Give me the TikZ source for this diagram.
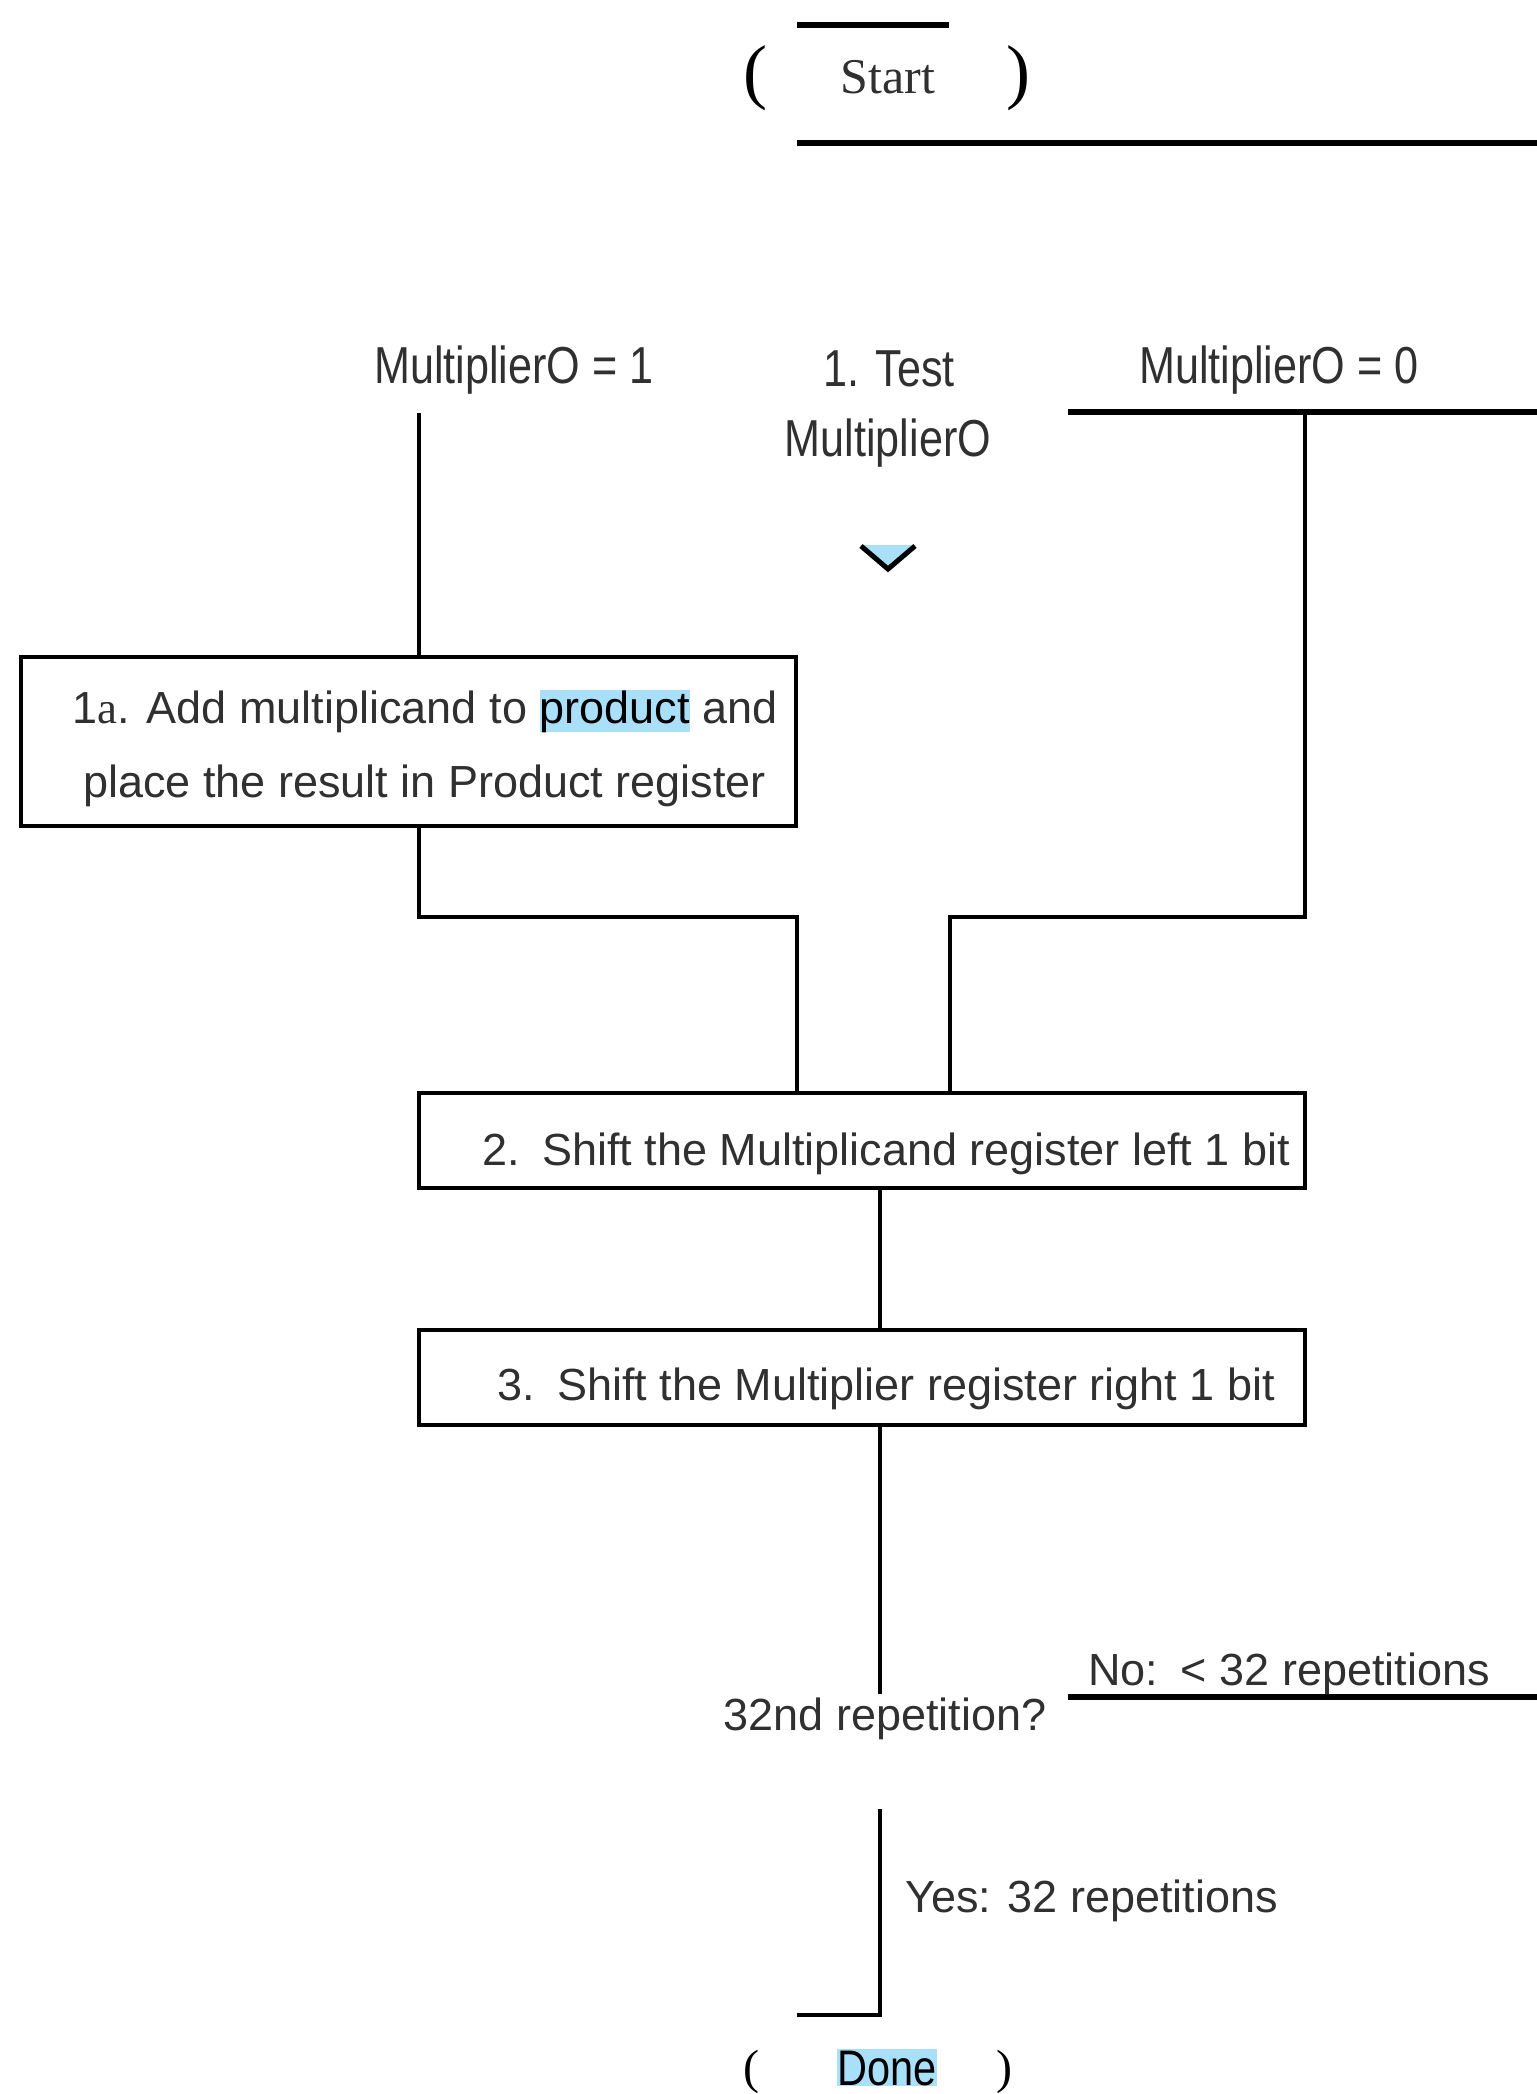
\documentclass[tikz,border=0pt]{standalone}
\usepackage{fontspec}
\setmainfont{Liberation Sans}
\newfontfamily\narrowfont[FakeStretch=0.83]{Liberation Sans}
\newfontfamily\termfont{Liberation Serif}

\definecolor{ink}{RGB}{48,48,48}
\definecolor{selblue}{RGB}{170,223,249}

\newcommand\selword[1]{{\setlength{\fboxsep}{0pt}\colorbox{selblue}{\vphantom{Ap}\textcolor{black}{#1}}}}

\tikzset{
  flowbox/.style={draw=black, line width=4.5pt, inner sep=0pt},
  link/.style={line width=4pt},
  heavy/.style={line width=5.5pt},
  steptext/.style={font=\fontsize{45}{54}\selectfont, text=ink, inner sep=0pt, anchor=base},
  condlabel/.style={font=\narrowfont\fontsize{52}{60}\selectfont, text=ink, inner sep=0pt, anchor=base},
  bracket/.style={font=\termfont\fontsize{72}{80}\selectfont, text=black, inner sep=0pt, anchor=base},
}

\begin{document}
\begin{tikzpicture}[x=1pt,y=-1pt]
\useasboundingbox (0,0) rectangle (1537,2094);

% start terminal
\node[bracket] (startL) at (755,95) {(};
\node[bracket] (startR) at (1018,95) {)};
\node[font=\termfont\fontsize{50}{60}\selectfont, text=ink, inner sep=0pt, anchor=base] (start) at (888,93) {Start};
\coordinate (capA) at (797,25);
\coordinate (capB) at (949,25);
\coordinate (baseA) at (797,143);
\coordinate (baseB) at (1537,143);
\draw[heavy] (capA) -- (capB);
\draw[heavy] (baseA) -- (baseB);

% test step and its two outcomes
\node[condlabel] (one) at (514,383) {MultiplierO = 1};
\node[condlabel] (zero) at (1279,383) {MultiplierO = 0};
\node[condlabel] (test) at (889,386) {1. Test};
\node[condlabel] (testb) at (888,456) {MultiplierO};

\fill[selblue] (860,545) -- (916,545) -- (888,570) -- cycle;
\draw[line width=5pt] (861,546) -- (888,569) -- (915,546);

% boxes
\node[flowbox, minimum width=775pt, minimum height=169pt] (add) at (408.5,741.5) {};
\node[steptext] (addA) at (425,723) {1{\termfont a}. Add multiplicand to \selword{product} and};
\node[steptext] (addB) at (424.5,797) {place the result in Product register};

\node[flowbox, minimum width=886pt, minimum height=95pt] (shl) at (862,1140.5) {};
\node[steptext] (shlT) at (886,1165) {2.\enspace Shift the Multiplicand register left 1 bit};

\node[flowbox, minimum width=886pt, minimum height=95pt] (shr) at (862,1377.5) {};
\node[steptext] (shrT) at (886,1400) {3.\enspace Shift the Multiplier register right 1 bit};

% connectors
\coordinate (upL) at (419,413);
\coordinate (joinL) at (419,917);
\coordinate (inL) at (797,917);
\coordinate (testR) at (1068,412);
\coordinate (edgeT) at (1537,412);
\coordinate (upR) at (1305,412);
\coordinate (joinR) at (1305,917);
\coordinate (inR) at (950,917);

\draw[link] (upL) -- (upL |- add.north);
\draw[link] (upL |- add.south) -- (joinL) -- (inL) -- (inL |- shl.north);
\draw[heavy] (testR) -- (edgeT);
\draw[link] (upR) -- (joinR) -- (inR) -- (inR |- shl.north);

\coordinate (loopA) at (880,1694);
\coordinate (loopB) at (880,1809);
\coordinate (loopC) at (880,2015);
\coordinate (doneL) at (797,2015);
\coordinate (noL) at (1068,1697);
\coordinate (noR) at (1537,1697);

\draw[link] (loopA |- shl.south) -- (loopA |- shr.north);
\draw[link] (loopA |- shr.south) -- (loopA);
\draw[link] (loopB) -- (loopC) -- (doneL);
\draw[heavy] (noL) -- (noR);

% repetition test
\node[steptext] (rep) at (885,1730) {32nd repetition?};
\node[steptext, anchor=base west] (no) at (1088,1685) {No:\enspace< 32 repetitions};
\node[steptext, anchor=base west] (yes) at (905,1912) {Yes: 32 repetitions};

% done terminal
\node[bracket, font=\termfont\fontsize{48}{56}\selectfont] (doneBl) at (751,2083) {(};
\node[bracket, font=\termfont\fontsize{48}{56}\selectfont] (doneBr) at (1004,2083) {)};
\node[font=\narrowfont\fontsize{50}{60}\selectfont, fill=selblue, inner sep=0pt, text height=36pt, text depth=1pt, anchor=base] (done) at (887,2085) {Done};
\end{tikzpicture}
\end{document}
